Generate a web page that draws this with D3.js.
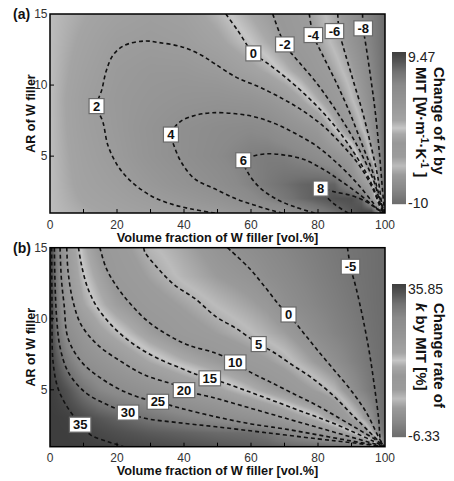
<!DOCTYPE html>
<html><head><meta charset="utf-8">
<script src="https://cdn.jsdelivr.net/npm/d3@7"></script>
<style>body{margin:0;background:#fff}svg{display:block}</style>
</head><body>
<svg id="chart" width="454" height="481"></svg>
<script>
// ---------- shared axis data ----------
const xTicks = [0, 20, 40, 60, 80, 100];
const xMinorTicks = [10, 30, 50, 70, 90];
const yTicks = [5, 10, 15];
const xTitle = "Volume fraction of W filler [vol.%]";
const yTitle = "AR of W filler";

// colormap (fraction of colour range -> gray level)
const cmapT    = [0, 0.10, 0.19, 0.25, 0.31, 0.40, 0.46, 0.50, 0.55, 0.66, 0.78, 0.87, 0.94, 1];
const cmapGray = [108, 136, 154, 188, 156, 152, 168, 198, 164, 150, 138, 114, 84, 62];

// ---------- panel (a): change of k by MIT ----------
const aRange = [-10, 9.47];
const aX  = [0, 10, 20, 30, 40, 50, 60, 65, 70, 75, 80, 85, 90, 93, 96, 98, 100];
const aAR = [1, 2, 3, 5, 7, 9, 11, 13, 15];
const aZ = [
  [0, 0.5, 0.9, 1.3, 1.65, 2.0, 3.0, 3.5, 4.0, 5.0, 6.0, 7.0, 8.0, 8.8, 9.47, 6.0, -10],
  [0, 0.8, 1.3, 1.9, 2.6, 3.4, 4.9, 5.7, 6.5, 7.3, 7.9, 8.4, 8.5, 7.6, 3.0, -2.0, -10],
  [0, 1.0, 1.6, 2.5, 3.4, 4.4, 5.7, 6.4, 7.0, 7.5, 7.8, 7.6, 5.0, 3.0, 1.0, -6.5, -10],
  [0, 1.2, 2.1, 3.2, 4.2, 5.1, 6.0, 6.2, 6.05, 5.4, 4.6, 3.5, 2.0, -1.7, -5.5, -7.6, -10],
  [0, 1.4, 2.3, 3.3, 4.2, 4.8, 5.1, 4.8, 3.95, 3.2, 2.4, -0.3, -3.2, -5.0, -7.1, -8.4, -10],
  [0, 1.5, 2.4, 2.9, 3.3, 3.5, 3.2, 2.7, 1.95, 0.7, -0.9, -2.8, -5.0, -6.4, -7.7, -8.6, -10],
  [0, 1.2, 2.2, 2.6, 2.6, 2.15, 1.1, 0.45, -0.5, -1.6, -3.0, -4.4, -6.0, -7.0, -8.1, -9.0, -10],
  [0, 0.9, 1.8, 2.05, 1.8, 1.0, -0.25, -1.0, -1.95, -3.0, -4.1, -5.5, -6.8, -7.6, -8.5, -9.2, -10],
  [0, 0.6, 1.2, 1.6, 1.3, 0.25, -1.1, -1.8, -2.6, -3.55, -4.6, -5.8, -7.1, -7.95, -8.7, -9.3, -10]
];
const aLine2  = [[49.2,1.0],[42.2,1.28],[36.2,1.63],[30.2,2.2],[24.3,3.2],[20.3,4.3],[17.3,5.75],[15.8,7.4],[14.0,8.5],[15.5,9.7],[16.8,11.0],[18.8,12.1],[22.3,12.8],[28.3,13.1],[32.2,13.0],[39.2,12.7],[45.2,12.1],[49.2,11.5],[55.5,10.56],[62.5,9.86],[69.5,9.03],[75.4,8.2],[81.4,7.15],[87.4,5.74],[92.4,4.33],[96.4,2.69],[98.8,1.28],[99.6,1.0]];
const aLine4  = [[69.5,1.0],[67.4,1.1],[61.5,1.52],[55.5,2.0],[49.2,2.7],[43.2,3.4],[39.2,4.57],[37.0,5.75],[36.1,6.52],[38.7,7.4],[43.2,7.86],[48.2,8.05],[55.5,7.98],[61.5,7.74],[67.4,7.27],[73.4,6.57],[79.4,5.74],[85.4,4.57],[91.4,3.16],[96.3,1.75],[98.3,1.1],[99.7,1.0]];
const aLine6  = [[79.0,1.0],[73.4,1.4],[67.4,2.0],[62.5,2.81],[59.0,3.87],[57.7,4.71],[60.5,5.0],[64.5,5.16],[69.5,5.09],[75.4,4.8],[81.4,4.1],[87.4,3.16],[92.4,2.3],[96.3,1.55],[98.5,1.15],[99.7,1.0]];
const aLine8  = [[89.0,1.0],[85.0,1.6],[82.0,2.3],[80.8,2.72],[85.4,2.46],[90.4,2.2],[94.3,1.8],[97.3,1.35],[99.3,1.05]];
const aLine0  = [[52.5,15],[56.0,13.85],[60.7,12.23],[64.5,11.6],[69.5,10.7],[75.4,9.5],[81.4,8.1],[86.4,6.7],[91.4,5.0],[95.3,3.4],[98.3,1.75],[99.7,1.0]];
const aLineM2 = [[66.5,15],[70.1,12.86],[74.4,11.6],[79.4,10.2],[84.4,8.56],[89.4,6.7],[93.3,5.0],[96.8,3.16],[98.8,1.5],[99.8,1.0]];
const aLineM4 = [[77.4,15],[78.6,13.52],[81.4,12.1],[85.4,10.2],[89.4,8.1],[93.3,5.74],[96.3,3.9],[98.8,1.75],[99.8,1.0]];
const aLineM6 = [[85.9,15],[86.3,13.8],[87.4,12.8],[90.4,10.4],[93.3,8.1],[95.8,5.74],[97.8,3.6],[99.1,1.6],[99.85,1.0]];
const aLineM8 = [[93.3,15],[93.5,14.0],[94.3,12.8],[95.8,10.4],[97.1,8.1],[98.3,5.3],[99.3,2.5],[99.9,1.0]];
const aLabelText = ["2", "4", "6", "8", "0", "-2", "-4", "-6", "-8"];
const aLabelPos  = [[13.9,8.52],[36.1,6.52],[57.7,4.71],[80.8,2.72],[60.7,12.23],[70.1,12.86],[78.6,13.52],[84.9,13.8],[93.5,13.99]];
const aCbarLabels = ["9.47", "-10"];
const aCbarTitle = ["Change of |k| by", "MIT [W·m|-1|·K|-1| ]"];

// ---------- panel (b): change rate of k by MIT ----------
const bRange = [-6.33, 35.85];
const bX  = [0, 2, 5, 10, 15, 20, 30, 40, 50, 60, 65, 70, 75, 80, 85, 90, 93, 96, 98, 100];
const bAR = [1, 2, 3, 5, 7, 9, 11, 13, 15];
const bZ = [
  [35.85, 35.85, 35.85, 35.8, 35.5, 35.1, 34.5, 33.8, 33.0, 32.3, 32.0, 31.6, 31.2, 30.8, 30.4, 30.1, 29.5, 25, 15, -6.33],
  [35.85, 35.85, 35.8, 35.3, 34.5, 33.8, 32.6, 31.8, 31.0, 30.6, 29.8, 27.2, 24.6, 22.5, 19.9, 15.5, 11.0, 4.0, -1.5, -6.33],
  [35.85, 35.85, 35.6, 34.3, 33.0, 31.9, 29.8, 27.7, 25.6, 23.4, 22.0, 19.8, 17.6, 15.3, 11.2, 6.3, 3.2, -1.0, -4.8, -6.33],
  [35.85, 35.2, 33.5, 29.9, 27.0, 25.4, 22.8, 20.0, 17.5, 14.0, 12.0, 10.2, 7.9, 6.1, 3.8, -0.3, -2.5, -4.5, -5.4, -6.33],
  [35.85, 33.0, 29.2, 24.6, 22.4, 20.4, 16.5, 13.5, 10.9, 8.2, 6.9, 5.3, 3.3, 1.3, -0.6, -2.8, -3.9, -5.1, -5.7, -6.33],
  [35.85, 30.6, 25.4, 21.2, 17.8, 15.6, 11.5, 8.5, 6.5, 4.4, 3.2, 2.0, 0.3, -1.3, -2.7, -3.8, -4.6, -5.5, -5.9, -6.33],
  [35.85, 29.5, 22.0, 17.0, 14.0, 11.5, 8.4, 6.2, 4.0, 2.2, 1.2, -0.5, -1.6, -2.6, -3.5, -4.45, -5.1, -5.7, -6.05, -6.33],
  [35.85, 29.0, 20.9, 15.1, 12.0, 9.3, 6.2, 3.6, 1.7, 0.3, -0.8, -1.6, -2.45, -3.3, -4.1, -4.95, -5.4, -5.8, -6.1, -6.33],
  [35.85, 28.5, 20.0, 13.8, 10.0, 8.05, 4.6, 2.55, 0.5, -1.0, -1.7, -2.4, -3.1, -3.8, -4.5, -5.2, -5.5, -5.85, -6.1, -6.33]
];
const bLine35 = [[0.5,15],[0.6,11],[0.9,7],[2.4,5.1],[5.4,3.7],[9.0,2.6],[12.3,1.8],[17.3,1.35],[22.0,1.0]];
const bLine30 = [[1.3,15],[1.5,12.5],[2.0,10],[3.0,8],[5.4,6.27],[10.3,4.86],[17.3,3.93],[23.3,3.4],[28.3,3.0],[38.0,2.7],[49.6,2.4],[64.0,2.0],[80.0,1.55],[90.0,1.28],[99.8,1.0]];
const bLine25 = [[3.0,15],[3.4,12.8],[4.2,11],[5.4,8.62],[9.35,6.98],[15.3,5.8],[22.3,4.86],[29.3,4.28],[32.2,4.16],[39.2,3.69],[49.6,3.1],[60.0,2.6],[70.0,2.25],[80.0,1.83],[90.0,1.4],[99.8,1.0]];
const bLine20 = [[5.0,15],[5.4,13.31],[6.9,11.2],[9.35,9.56],[14.3,8.15],[21.3,6.98],[28.3,6.04],[37.2,5.34],[40.0,4.98],[49.6,4.4],[60.0,3.7],[70.0,3.02],[80.0,2.35],[90.0,1.67],[99.8,1.0]];
const bLine15 = [[8.5,15],[9.4,13.78],[11.3,12.14],[14.3,10.73],[19.3,9.32],[25.3,8.15],[32.2,7.21],[39.2,6.51],[44.2,6.04],[47.7,5.81],[52.5,5.45],[59.5,4.86],[67.5,4.16],[75.4,3.46],[83.4,2.76],[90.4,2.05],[96.4,1.4],[99.8,1.0]];
const bLine10 = [[14.9,15],[16.8,13.55],[20.3,12.14],[24.3,10.97],[29.3,9.8],[35.2,8.86],[41.2,8.15],[49.6,7.57],[55.3,6.93],[59.5,6.28],[65.5,5.58],[72.4,4.76],[79.4,3.94],[86.4,3.0],[92.4,2.17],[97.3,1.47],[99.8,1.0]];
const bLine5  = [[28.0,15],[28.3,14.7],[32.2,13.55],[37.2,12.37],[43.2,11.43],[49.6,10.14],[55.5,9.33],[62.3,8.22],[66.5,7.68],[72.4,6.74],[78.4,5.8],[84.4,4.63],[90.3,3.22],[95.3,2.05],[98.3,1.35],[99.8,1.0]];
const bLine0  = [[53.0,15],[59.5,13.55],[64.5,12.14],[68.4,10.97],[71.2,10.3],[75.4,9.09],[79.4,7.92],[84.4,6.51],[89.4,5.1],[94.3,3.46],[98.3,1.58],[99.8,1.0]];
const bLineM5 = [[88.8,15],[89.7,13.66],[91.4,12.14],[93.4,10.03],[95.3,7.68],[96.8,5.33],[98.1,2.99],[98.8,1.35],[99.9,1.0]];
const bLabelText = ["35", "30", "25", "20", "15", "10", "5", "0", "-5"];
const bLabelPos  = [[9.0,2.55],[23.3,3.4],[32.2,4.16],[40.0,4.98],[47.7,5.81],[55.3,6.93],[62.3,8.22],[71.2,10.3],[89.7,13.66]];
const bCbarLabels = ["35.85", "-6.33"];
const bCbarTitle = ["Change rate of", "|k| by MIT [%]"];

// ---------- drawing ----------
const svg = d3.select("#chart");
const FONT = "'Liberation Sans', Arial, Helvetica, sans-serif";
const plotLeft = 50, plotRight = 385;

function grayColor(range) {
  const g = d3.scaleLinear().domain(cmapT).range(cmapGray).clamp(true);
  return v => { const t = (v - range[0]) / (range[1] - range[0]); const c = Math.round(g(t)); return [c, c, c]; };
}

function fieldAt(xs, ars, z, x, a) {
  let i = d3.bisectRight(xs, x) - 1; i = Math.max(0, Math.min(xs.length - 2, i));
  let j = d3.bisectRight(ars, a) - 1; j = Math.max(0, Math.min(ars.length - 2, j));
  const tx = Math.max(0, Math.min(1, (x - xs[i]) / (xs[i + 1] - xs[i])));
  const ty = Math.max(0, Math.min(1, (a - ars[j]) / (ars[j + 1] - ars[j])));
  return z[j][i] * (1 - tx) * (1 - ty) + z[j][i + 1] * tx * (1 - ty) + z[j + 1][i] * (1 - tx) * ty + z[j + 1][i + 1] * tx * ty;
}

// "a|b|c|d" : odd pieces are special (k -> italic, otherwise superscript)
function richText(sel, spec) {
  const parts = spec.split("|");
  let raised = false;
  parts.forEach((p, k) => {
    if (!p) return;
    const ts = sel.append("tspan").text(p);
    const special = k % 2 === 1;
    if (special && p === "k") {
      ts.attr("font-style", "italic");
      if (raised) { ts.attr("dy", 5); raised = false; }
    } else if (special) {
      ts.attr("font-size", "10px");
      if (!raised) { ts.attr("dy", -5); raised = true; }
    } else if (raised) {
      ts.attr("dy", 5); raised = false;
    }
  });
}

function drawPanel(cfg) {
  const top = cfg.top, bottom = cfg.bottom;
  const x = d3.scaleLinear().domain([0, 100]).range([plotLeft, plotRight]);
  const y = d3.scaleLinear().domain([1, 15]).range([bottom, top]);
  const g = svg.append("g");
  const color = grayColor(cfg.range);

  // heat map image
  const W = Math.round(plotRight - plotLeft), H = Math.round(bottom - top);
  const canvas = document.createElement("canvas");
  canvas.width = W; canvas.height = H;
  const ctx = canvas.getContext("2d");
  const img = ctx.createImageData(W, H);
  for (let py = 0; py < H; py++) {
    const a = y.invert(top + (py + 0.5) * (bottom - top) / H);
    for (let px = 0; px < W; px++) {
      const xv = x.invert(plotLeft + (px + 0.5) * (plotRight - plotLeft) / W);
      const c = color(fieldAt(cfg.xs, cfg.ars, cfg.z, xv, a));
      const o = (py * W + px) * 4;
      img.data[o] = c[0]; img.data[o + 1] = c[1]; img.data[o + 2] = c[2]; img.data[o + 3] = 255;
    }
  }
  ctx.putImageData(img, 0, 0);
  g.append("image").attr("x", x(0)).attr("y", y(15))
    .attr("width", x(100) - x(0)).attr("height", y(1) - y(15))
    .attr("preserveAspectRatio", "none")
    .attr("href", canvas.toDataURL());

  // contour lines
  const clipId = "clip" + cfg.id;
  svg.append("clipPath").attr("id", clipId).append("rect")
    .attr("x", x(0)).attr("y", y(15)).attr("width", x(100) - x(0)).attr("height", y(1) - y(15));
  const line = d3.line().x(d => x(d[0])).y(d => y(d[1])).curve(d3.curveCatmullRom.alpha(0.5));
  g.append("g").attr("clip-path", `url(#${clipId})`).selectAll("path").data(cfg.lines).join("path")
    .attr("d", line).attr("fill", "none").attr("stroke", "#111")
    .attr("stroke-width", 1.6).attr("stroke-dasharray", "4,3");

  // contour labels
  const lab = g.append("g").selectAll("g").data(cfg.labelText).join("g")
    .attr("transform", (d, i) => `translate(${x(cfg.labelPos[i][0])},${y(cfg.labelPos[i][1])})`);
  const rects = lab.append("rect").attr("fill", "#fff").attr("stroke", "#6a6a6a").attr("stroke-width", 1.2);
  const texts = lab.append("text").text(d => d).attr("text-anchor", "middle").attr("dy", "0.36em")
    .attr("font-family", FONT).attr("font-weight", "bold").attr("font-size", "13px").attr("fill", "#111");
  texts.each(function(d, i) {
    const w = Math.max(15, this.getComputedTextLength() + 7);
    d3.select(rects.nodes()[i]).attr("x", -w / 2).attr("y", -7.5).attr("width", w).attr("height", 15);
  });

  // frame
  g.append("rect").attr("x", x(0)).attr("y", y(15)).attr("width", x(100) - x(0)).attr("height", y(1) - y(15))
    .attr("fill", "none").attr("stroke", "#000").attr("stroke-width", 1.5);

  // ticks (inward)
  g.append("g").selectAll("line").data(xTicks.concat(xMinorTicks).filter(v => v > 0 && v < 100)).join("line")
    .attr("x1", d => x(d)).attr("x2", d => x(d)).attr("y1", y(1)).attr("y2", y(1) - 4)
    .attr("stroke", "#000").attr("stroke-width", 1);
  g.append("g").selectAll("line").data(yTicks.filter(v => v < 15)).join("line")
    .attr("x1", x(0)).attr("x2", x(0) + 4).attr("y1", d => y(d)).attr("y2", d => y(d))
    .attr("stroke", "#000").attr("stroke-width", 1);

  // tick labels
  g.append("g").selectAll("text").data(xTicks).join("text")
    .attr("x", d => x(d)).attr("y", y(1) + 15.5).attr("text-anchor", "middle").text(d => d)
    .attr("font-family", FONT).attr("font-size", "12px").attr("fill", "#333");
  g.append("g").selectAll("text").data(yTicks).join("text")
    .attr("x", x(0) - 2.5).attr("y", d => y(d)).attr("dy", "0.35em").attr("text-anchor", "end").text(d => d)
    .attr("font-family", FONT).attr("font-size", "12px").attr("fill", "#333");

  // axis titles
  g.append("text").attr("x", (x(0) + x(100)) / 2).attr("y", y(1) + 28.5).attr("text-anchor", "middle")
    .attr("font-family", FONT).attr("font-weight", "bold").attr("font-size", "12.7px").attr("fill", "#111").text(xTitle);
  g.append("text").attr("transform", `translate(34.5,${(y(1) + y(15)) / 2}) rotate(-90)`).attr("text-anchor", "middle")
    .attr("font-family", FONT).attr("font-weight", "bold").attr("font-size", "12.5px").attr("fill", "#111").text(yTitle);

  // panel letter
  g.append("text").attr("x", 13).attr("y", y(15) + 5).attr("font-family", FONT).attr("font-weight", "bold")
    .attr("font-size", "14px").attr("fill", "#111").text(cfg.letter);

  // colour bar
  const cb = cfg.cbar;
  const cy = d3.scaleLinear().domain(cfg.range).range([cb.bottom, cb.top]);
  const steps = d3.range(Math.round(cb.bottom - cb.top)).map(k => cy.invert(cb.top + k + 0.5));
  g.append("g").selectAll("rect").data(steps).join("rect")
    .attr("x", cb.x).attr("width", cb.w).attr("y", d => cy(d) - 0.5).attr("height", 1.2)
    .attr("fill", d => { const c = color(d); return `rgb(${c[0]},${c[1]},${c[2]})`; });
  g.append("text").attr("x", cb.x + cb.w + 2).attr("y", cy(cfg.range[1]) + 5).attr("dy", "0.35em")
    .attr("font-family", FONT).attr("font-size", "14px").attr("fill", "#222").text(cfg.cbarLabels[0]);
  g.append("text").attr("x", cb.x + cb.w + 2).attr("y", cy(cfg.range[0]) - 1).attr("dy", "0.35em")
    .attr("font-family", FONT).attr("font-size", "14px").attr("fill", "#222").text(cfg.cbarLabels[1]);
  cfg.cbarTitle.forEach((t, k) => {
    const tx = g.append("text").attr("transform", `translate(${cb.titleX - k * 18},${cb.top + cb.titleDy}) rotate(90)`)
      .attr("font-family", FONT).attr("font-weight", "bold").attr("font-size", "15px").attr("fill", "#111");
    richText(tx, t);
  });
}

drawPanel({
  id: "a", letter: "(a)", top: 14, bottom: 213, range: aRange, xs: aX, ars: aAR, z: aZ,
  lines: [aLine2, aLine4, aLine6, aLine8, aLine0, aLineM2, aLineM4, aLineM6, aLineM8],
  labelText: aLabelText, labelPos: aLabelPos, cbarLabels: aCbarLabels, cbarTitle: aCbarTitle,
  cbar: { x: 392, w: 14, top: 52, bottom: 204, titleX: 434, titleDy: 15 }
});
drawPanel({
  id: "b", letter: "(b)", top: 247.7, bottom: 446.7, range: bRange, xs: bX, ars: bAR, z: bZ,
  lines: [bLine35, bLine30, bLine25, bLine20, bLine15, bLine10, bLine5, bLine0, bLineM5],
  labelText: bLabelText, labelPos: bLabelPos, cbarLabels: bCbarLabels, cbarTitle: bCbarTitle,
  cbar: { x: 392, w: 14, top: 284, bottom: 437, titleX: 434, titleDy: 19 }
});
</script>
</body></html>
